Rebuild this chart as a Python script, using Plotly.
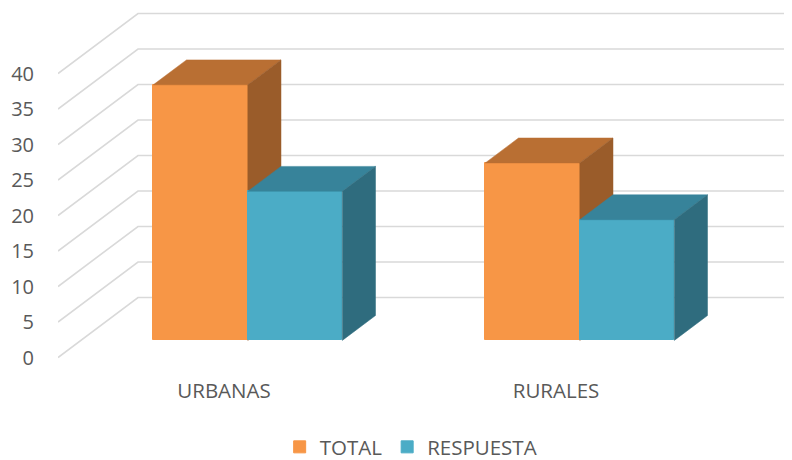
import plotly.graph_objects as go

categories = ["URBANAS", "RURALES"]
total = [36, 25]
respuesta = [21, 17]
y_ticks = [0, 5, 10, 15, 20, 25, 30, 35, 40]

FONT = "Open Sans"
TEXT = "#595959"
GRID = "#D9D9D9"
SERIES = [
    ("TOTAL", total, "#F79646", "#B96F33", "#9A5C2A", -1),
    ("RESPUESTA", respuesta, "#4BACC6", "#37839A", "#2F6C7E", 0),
]

# oblique projection: depth 0 is the front of the floor, depth 1 the back wall
PX_PER_CAT = 332.0
PX_PER_VAL = 7.1
DX = 80 / PX_PER_CAT
DY = 60 / PX_PER_VAL
BAR_W = 94.5 / PX_PER_CAT
BAR_SHIFT = 1 / PX_PER_CAT
D_FRONT, D_BACK = 0.285, 0.70
# the page body adds an 8 px margin, so the figure is 784x452
PLOT_L, PLOT_T, PLOT_B = 50, 0, 368
ZERO_Y = 349.5
X0 = -0.5
X1 = X0 + (784 - PLOT_L) / PX_PER_CAT
Y0 = -(PLOT_B - ZERO_Y) / PX_PER_VAL
Y1 = ZERO_Y / PX_PER_VAL


def proj(x, v, d):
    return x + d * DX, v + d * DY


fig = go.Figure()

# walls: one polyline per tick
for t in y_ticks:
    a, b = proj(X0, t, 0), proj(X0, t, 1)
    fig.add_trace(go.Scatter(x=[a[0], b[0], X1], y=[a[1], b[1], b[1]], mode="lines",
                             line=dict(color=GRID, width=1.6), showlegend=False, hoverinfo="skip"))

for s, (name, vals, front, top, side, off) in enumerate(SERIES):
    ax = str(s + 2)
    xa, ya = "x" + ax, "y" + ax
    lefts = [i + off * BAR_W + BAR_SHIFT for i in range(len(vals))]
    fig.add_trace(go.Bar(
        x=[l + BAR_W / 2 + D_FRONT * DX for l in lefts],
        y=vals,
        base=[D_FRONT * DY] * len(vals),
        width=BAR_W,
        name=name,
        marker=dict(color=front, line=dict(width=1, color=front)),
        xaxis=xa, yaxis=ya,
    ))
    for l, v in zip(lefts, vals):
        r = l + BAR_W
        faces = [
            (top, [(l, v, D_FRONT), (r, v, D_FRONT), (r, v, D_BACK), (l, v, D_BACK)]),
            (side, [(r, 0, D_FRONT), (r, v, D_FRONT), (r, v, D_BACK), (r, 0, D_BACK)]),
        ]
        for color, pts in faces:
            p = [proj(*q) for q in pts] + [proj(*pts[0])]
            fig.add_trace(go.Scatter(
                x=[q[0] for q in p], y=[q[1] for q in p], mode="lines", fill="toself",
                fillcolor=color, line=dict(color=color, width=0.5),
                showlegend=False, hoverinfo="skip", xaxis=xa, yaxis=ya,
            ))

hidden = dict(visible=False, fixedrange=True)
fig.update_layout(
    width=784, height=452,
    margin=dict(l=PLOT_L, r=0, t=PLOT_T, b=452 - PLOT_B, autoexpand=False),
    paper_bgcolor="white", plot_bgcolor="white",
    font=dict(family=FONT, size=20, color=TEXT),
    bargap=0, barmode="overlay",
    xaxis=dict(range=[X0, X1], tickvals=[0, 1], ticktext=categories, showgrid=False,
               automargin=False, zeroline=False, showline=False, ticks="", ticklabelstandoff=0,
               tickfont=dict(family=FONT, size=20.5, color=TEXT)),
    yaxis=dict(range=[Y0, Y1], tickvals=y_ticks, showgrid=False, zeroline=False,
               automargin=False, showline=False, ticks="", ticklabelstandoff=23,
               tickfont=dict(family=FONT, size=20, color=TEXT)),
    xaxis2=dict(range=[X0, X1], overlaying="x", **hidden),
    yaxis2=dict(range=[Y0, Y1], overlaying="y", **hidden),
    xaxis3=dict(range=[X0, X1], overlaying="x", **hidden),
    yaxis3=dict(range=[Y0, Y1], overlaying="y", **hidden),
    legend=dict(orientation="h", xanchor="left", yanchor="middle", x=0.302, y=-0.193,
                font=dict(family=FONT, size=20.5, color=TEXT), bgcolor="rgba(0,0,0,0)",
                itemclick=False, itemdoubleclick=False),
)

fig.write_html("out.html")
